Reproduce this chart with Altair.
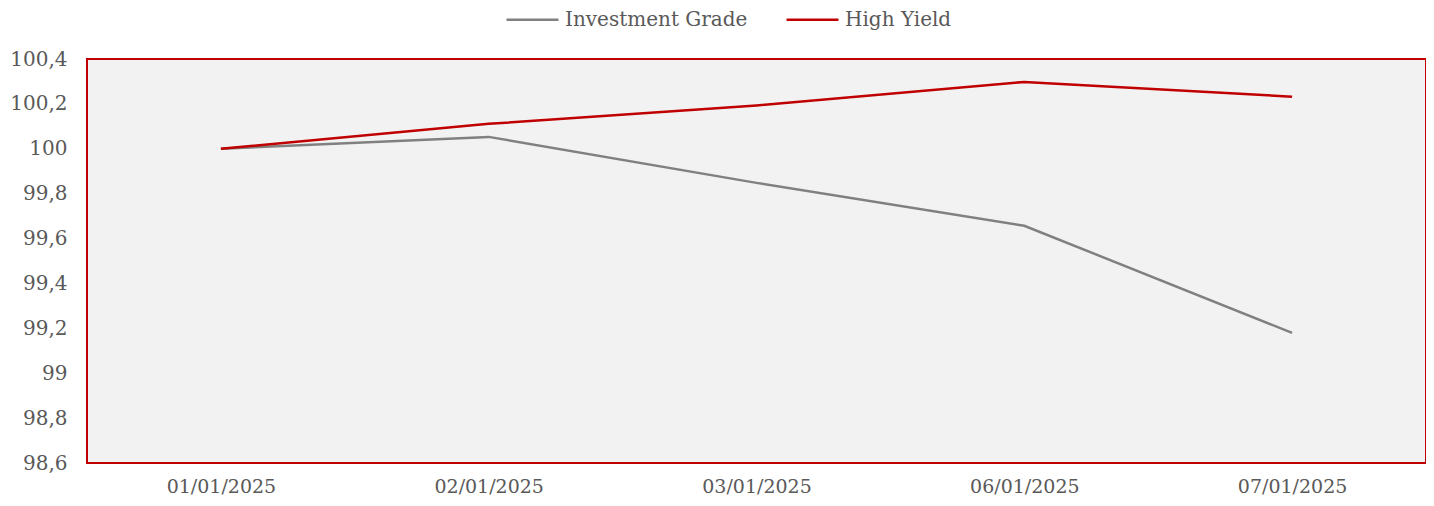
import altair as alt
import pandas as pd

dates = ["01/01/2025", "02/01/2025", "03/01/2025", "06/01/2025", "07/01/2025"]
investment_grade = [100.0, 100.053, 99.848, 99.657, 99.18]
high_yield = [100.0, 100.111, 100.193, 100.298, 100.232]
series_names = ["Investment Grade", "High Yield"]
series_colors = ["#808080", "#c00000"]

rows = []
for d, v in zip(dates, investment_grade):
    rows.append({"date": d, "series": series_names[0], "value": v})
for d, v in zip(dates, high_yield):
    rows.append({"date": d, "series": series_names[1], "value": v})
df = pd.DataFrame(rows)

FONT = "DejaVu Serif"
TXT = "#595959"

chart = alt.Chart(df).mark_line(strokeWidth=2.5).encode(
    x=alt.X("date:N", sort=dates, title=None,
            scale=alt.Scale(type="point", padding=0.5),
            axis=alt.Axis(labelAngle=0, labelFont=FONT, labelFontSize=19,
                          labelColor=TXT, ticks=False, domain=False,
                          labelPadding=14, grid=False)),
    y=alt.Y("value:Q", title=None,
            scale=alt.Scale(domain=[98.6, 100.4], nice=False, zero=False),
            axis=alt.Axis(values=[98.6, 98.8, 99.0, 99.2, 99.4, 99.6, 99.8, 100.0, 100.2, 100.4],
                          labelExpr="replace(toString(round(datum.value*10)/10), '.', ',')",
                          labelFont=FONT, labelFontSize=20, labelColor=TXT,
                          ticks=False, domain=False, grid=False, labelPadding=20)),
    color=alt.Color("series:N", sort=series_names,
                    scale=alt.Scale(domain=series_names, range=series_colors),
                    legend=alt.Legend(title=None, orient="none", direction="horizontal",
                                      legendX=418, legendY=-67,
                                      symbolType="stroke", symbolSize=2700,
                                      symbolStrokeWidth=2.5, labelFont=FONT,
                                      labelFontSize=20, labelColor=TXT, labelLimit=400,
                                      labelOffset=5, columnPadding=33)),
).properties(
    width=1339, height=404,
    padding={"left": 79, "top": 51, "right": 0, "bottom": 35},
    autosize=alt.AutoSizeParams(type="none"),
).configure_view(
    fill="#f2f2f2", stroke="#c00000", strokeWidth=2
)

chart.save("out.html", embed_options={"renderer": "svg", "actions": False})
